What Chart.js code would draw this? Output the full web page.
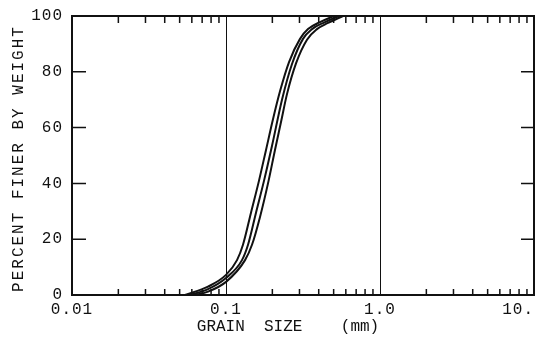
<!DOCTYPE html>
<html>
<head>
<meta charset="utf-8">
<script src="https://cdn.jsdelivr.net/npm/chart.js@4"></script>
<style>
  html, body { margin: 0; padding: 0; background: #fff; }
  #wrap { width: 536px; height: 343px; }
</style>
</head>
<body>
<div id="wrap"><canvas id="grain"></canvas></div>
<script>
// Grain size distribution, three samples (size in mm, percent finer)
const sizesA = [0.0542, 0.0764, 0.1, 0.1179, 0.1289, 0.1453, 0.1638, 0.1819, 0.2019, 0.2242, 0.2566, 0.3024, 0.3408, 0.4076, 0.5026];
const finerA = [0, 3, 7.2, 12.5, 18, 29.5, 41, 52, 63, 73, 83.5, 91.8, 95.3, 97.8, 100];

const sizesB = [0.0584, 0.0764, 0.1, 0.127, 0.139, 0.1566, 0.1766, 0.199, 0.231, 0.2683, 0.3162, 0.3617, 0.4394, 0.5418];
const finerB = [0, 2.1, 6.1, 12.5, 18, 29.5, 41, 53.5, 70, 82.8, 91.8, 95.3, 97.8, 100];

const sizesC = [0.0629, 0.0764, 0.1, 0.1329, 0.1475, 0.1663, 0.1874, 0.208, 0.2276, 0.2489, 0.2848, 0.3357, 0.3898, 0.4596, 0.5751];
const finerC = [0, 1.2, 4.7, 12.5, 18, 28, 40, 52, 62, 72, 83, 91.5, 95.3, 97.5, 100];

// Axis ticks
const xLabelValues = [0.01, 0.1, 1, 10];
const xLabelTexts = ['0.01', '0.1', '1.0', '10.   '];
const xMinorValues = [0.02, 0.03, 0.04, 0.05, 0.06, 0.07, 0.08, 0.09,
                      0.2, 0.3, 0.4, 0.5, 0.6, 0.7, 0.8, 0.9,
                      2, 3, 4, 5, 6, 7, 8, 9];
const xGridValues = [0.1, 1];
const yTickValues = [0, 20, 40, 60, 80, 100];

const FONT = "'Liberation Mono', 'DejaVu Sans Mono', monospace";

function zip(xs, ys) {
    return xs.map((x, i) => ({ x: x, y: ys[i] }));
}

function curve(xs, ys) {
    return {
        data: zip(xs, ys),
        borderColor: '#111',
        borderWidth: 2,
        pointRadius: 0,
        fill: false,
        cubicInterpolationMode: 'monotone'
    };
}

// frame, inward ticks, two grid lines and axis titles
const frameDecor = {
    id: 'frameDecor',
    beforeDraw(chart) {
        chart.ctx.letterSpacing = '1px';
    },
    afterDraw(chart) {
        const { ctx, chartArea: a, scales } = chart;
        const xs = scales.x, ys = scales.y;
        ctx.save();
        ctx.strokeStyle = '#111';

        // thin vertical lines at 0.1 and 1.0
        ctx.lineWidth = 1;
        xGridValues.forEach(v => {
            const px = Math.round(xs.getPixelForValue(v)) + 0.5;
            ctx.beginPath();
            ctx.moveTo(px, a.top);
            ctx.lineTo(px, a.bottom);
            ctx.stroke();
        });

        // minor ticks on bottom (up) and top (down)
        ctx.lineWidth = 1.5;
        xMinorValues.forEach(v => {
            const px = xs.getPixelForValue(v);
            ctx.beginPath();
            ctx.moveTo(px, a.bottom);
            ctx.lineTo(px, a.bottom - 6);
            ctx.moveTo(px, a.top);
            ctx.lineTo(px, a.top + 7);
            ctx.stroke();
        });

        // y ticks on left and right
        yTickValues.slice(1, -1).forEach(v => {
            const py = ys.getPixelForValue(v);
            ctx.beginPath();
            ctx.moveTo(a.left, py);
            ctx.lineTo(a.left + 14, py);
            ctx.moveTo(a.right, py);
            ctx.lineTo(a.right - 13, py);
            ctx.stroke();
        });

        // box
        ctx.lineWidth = 2;
        ctx.strokeRect(a.left, a.top, a.right - a.left, a.bottom - a.top);

        // axis titles
        ctx.fillStyle = '#111';
        ctx.font = '16px ' + FONT;
        ctx.textBaseline = 'middle';
        ctx.textAlign = 'center';
        ctx.letterSpacing = '0px';
        ctx.fillText('GRAIN  SIZE    (mm)', (a.left + a.right) / 2 - 15, 327);

        ctx.translate(19, (a.top + a.bottom) / 2 + 3);
        ctx.rotate(-Math.PI / 2);
        ctx.letterSpacing = '2px';
        ctx.fillText('PERCENT FINER BY WEIGHT', 0, 0);
        ctx.restore();
    }
};

new Chart(document.getElementById('grain'), {
    type: 'line',
    data: {
        datasets: [
            curve(sizesA, finerA),
            curve(sizesB, finerB),
            curve(sizesC, finerC)
        ]
    },
    options: {
        responsive: true,
        maintainAspectRatio: false,
        animation: false,
        layout: { padding: { top: 16, right: 2, left: 0, bottom: 0 } },
        plugins: {
            legend: { display: false },
            tooltip: { enabled: false }
        },
        scales: {
            x: {
                type: 'logarithmic',
                min: 0.01,
                max: 10,
                grid: { display: false, drawTicks: false },
                border: { display: false },
                afterBuildTicks: (scale) => {
                    scale.ticks = xLabelValues.map(v => ({ value: v }));
                },
                afterFit: (scale) => {
                    scale.height = 48;
                    scale.paddingLeft = 0;
                    scale.paddingRight = 0;
                },
                ticks: {
                    autoSkip: false,
                    maxRotation: 0,
                    padding: 5,
                    color: '#111',
                    font: { family: FONT, size: 16 },
                    callback: (value) => {
                        const i = xLabelValues.indexOf(value);
                        return i >= 0 ? xLabelTexts[i] : '';
                    }
                }
            },
            y: {
                min: 0,
                max: 100,
                grid: { display: false, drawTicks: false },
                border: { display: false },
                afterBuildTicks: (scale) => {
                    scale.ticks = yTickValues.map(v => ({ value: v }));
                },
                afterFit: (scale) => {
                    scale.width = 72;
                    scale.paddingTop = 0;
                    scale.paddingBottom = 0;
                },
                ticks: {
                    padding: 9,
                    color: '#111',
                    font: { family: FONT, size: 16 }
                }
            }
        }
    },
    plugins: [frameDecor]
});
</script>
</body>
</html>
